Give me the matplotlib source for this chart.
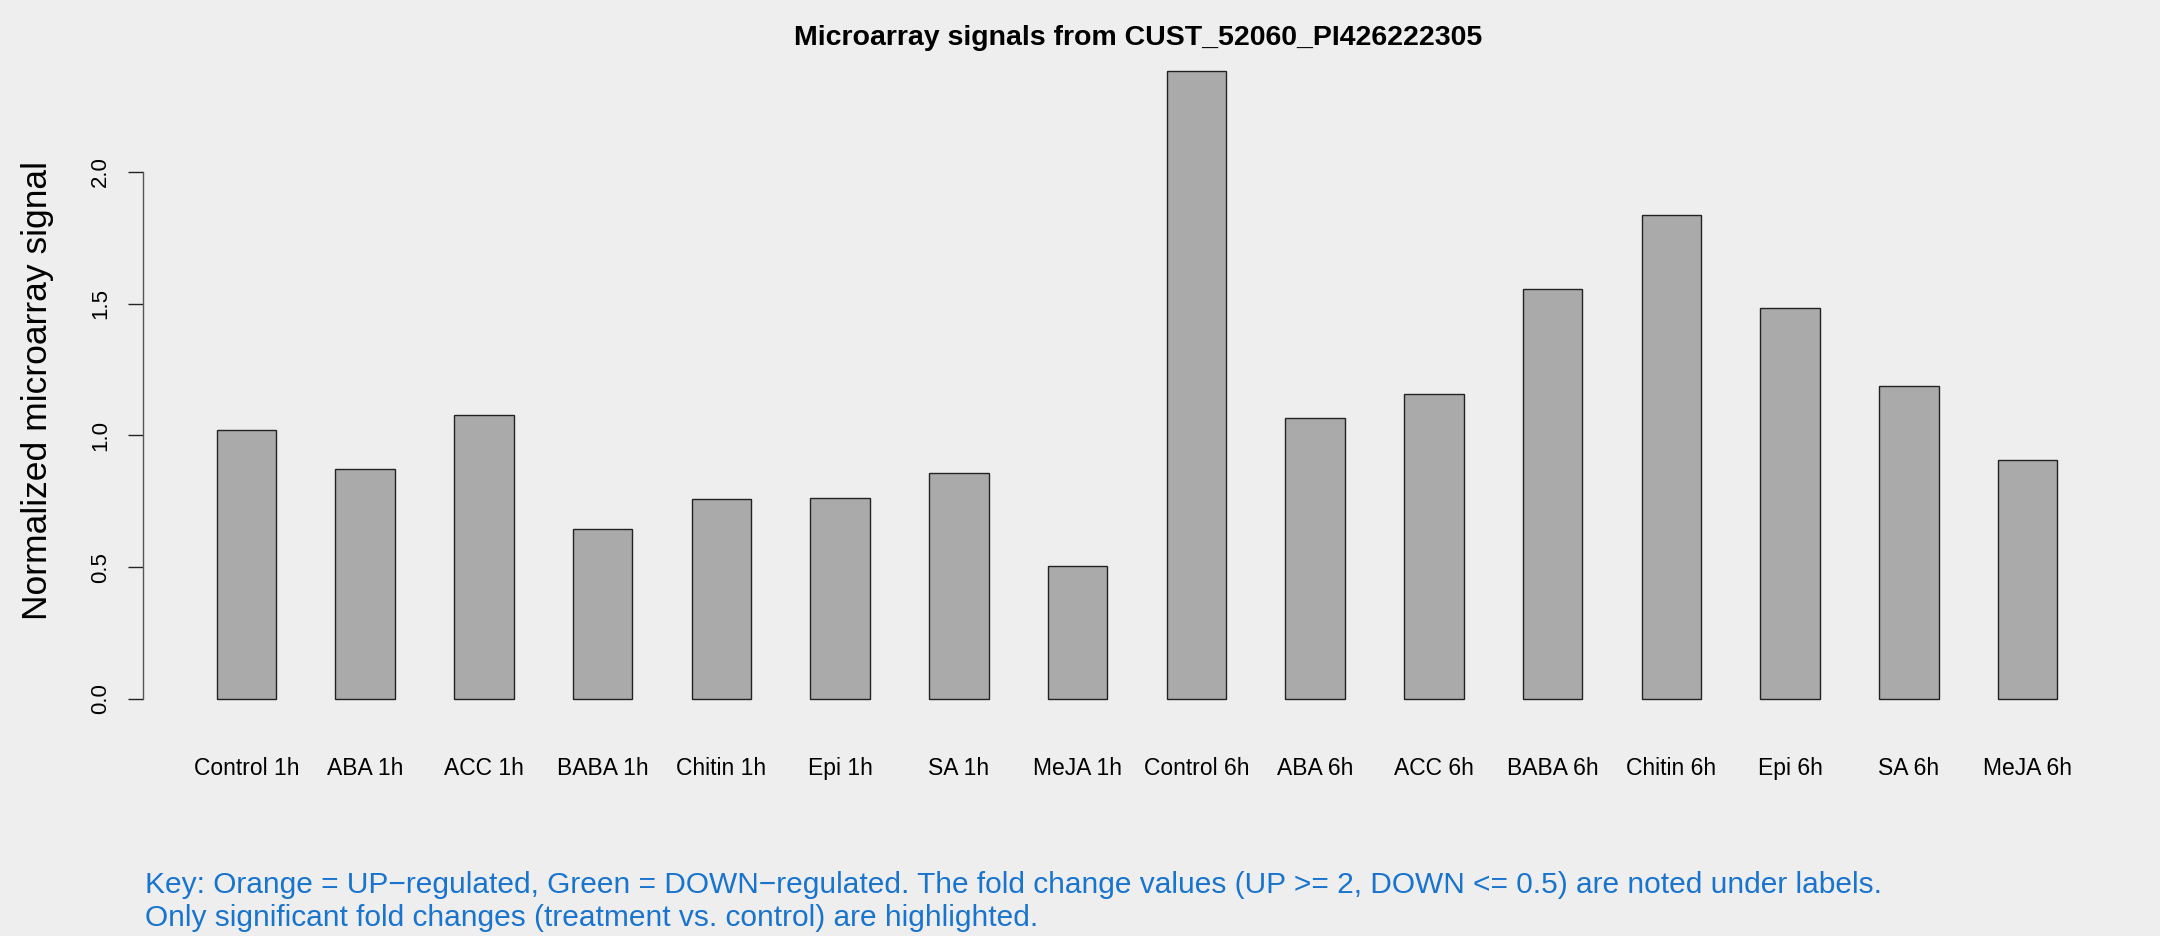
import numpy as np
import matplotlib
matplotlib.use("Agg")
import matplotlib.pyplot as plt
from matplotlib.transforms import blended_transform_factory

plt.rcParams['font.family'] = ['Liberation Sans', 'DejaVu Sans']

# values
labels = ['Control 1h', 'ABA 1h', 'ACC 1h', 'BABA 1h', 'Chitin 1h', 'Epi 1h', 'SA 1h', 'MeJA 1h',
          'Control 6h', 'ABA 6h', 'ACC 6h', 'BABA 6h', 'Chitin 6h', 'Epi 6h', 'SA 6h', 'MeJA 6h']
signal = [1.021, 0.874, 1.079, 0.644, 0.759, 0.764, 0.859, 0.503,
          2.382, 1.068, 1.157, 1.555, 1.838, 1.482, 1.188, 0.906]
yticks = [0.0, 0.5, 1.0, 1.5, 2.0]

title = 'Microarray signals from CUST_52060_PI426222305'
key1 = ('Key: Orange = UP\u2212regulated, Green = DOWN\u2212regulated. '
        'The fold change values (UP >= 2, DOWN <= 0.5) are noted under labels.')
key2 = 'Only significant fold changes (treatment vs. control) are highlighted.'

bg = '#EEEEEE'
W, H = 2160, 936
fig = plt.figure(figsize=(W / 100, H / 100), dpi=100, facecolor=bg)

# plot region like R barplot (space = 1, width = 1)
ax = fig.add_axes([143 / W, 1 - 724 / H, (2131 - 143) / W, (724 - 46.3) / H])
ax.set_facecolor(bg)

n = len(signal)
pos = 1.5 + 2 * np.arange(n)
ax.bar(pos, signal, width=1.0, color='#AAAAAA', edgecolor='#222222', linewidth=1.0)

top = max(signal)
ax.set_xlim(1 - 0.04 * 31, 32 + 0.04 * 31)
ax.set_ylim(-0.04 * top, 1.04 * top)

for s in ['top', 'right', 'bottom']:
    ax.spines[s].set_visible(False)
ax.spines['left'].set_bounds(yticks[0], yticks[-1])
ax.spines['left'].set_color('#555555')
ax.spines['left'].set_linewidth(1.0)

ax.set_xticks([])
ax.set_yticks(yticks)
ax.set_yticklabels([f'{t:.1f}' for t in yticks], rotation=90, va='center', fontsize=16)
ax.tick_params(axis='y', length=10.8, width=1.0, color='#222222', pad=12)

# bar labels under the axis
tr = blended_transform_factory(ax.transData, fig.transFigure)
for p, lab in zip(pos, labels):
    ax.text(p, 1 - 775 / H, lab, transform=tr, ha='center', va='baseline', fontsize=16.5)

fig.text(1138 / W, 1 - 45 / H, title, ha='center', va='baseline', fontsize=20.5, fontweight='bold')
fig.text(38 / W, 1 - 390 / H, 'Normalized microarray signal', rotation=90,
         ha='center', va='center', fontsize=25.5)

fig.text(145 / W, 1 - 893 / H, key1, ha='left', va='baseline', fontsize=21.5, color='#1874CD')
fig.text(145 / W, 1 - 926 / H, key2, ha='left', va='baseline', fontsize=21.5, color='#1874CD')

fig.savefig('out.png', dpi=100, facecolor=bg)
